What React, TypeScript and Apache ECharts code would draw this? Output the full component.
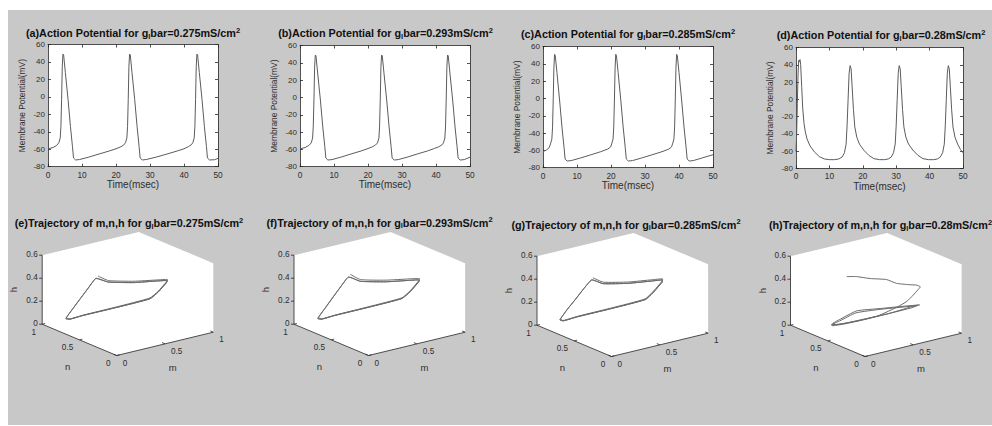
import React, { useEffect, useRef } from 'react';
import * as echarts from 'echarts';

// ---------------- DATA ----------------
const timeTicks = [0, 10, 20, 30, 40, 50];
const voltTicks = [-80, -60, -40, -20, 0, 20, 40, 60];
const gBarValues = ['0.275', '0.293', '0.285', '0.28'];
const topLetters = ['(a)', '(b)', '(c)', '(d)'];
const bottomLetters = ['(e)', '(f)', '(g)', '(h)'];
const mTicks = [0, 0.5, 1];
const nTicks = [0, 0.5, 1];
const hTicks = [0, 0.2, 0.4, 0.6];

// [time (msec), membrane potential (mV)]
const apA: number[][] = [[0,-59.5],[1.5,-58],[2.5,-55.8],[3.2,-52.5],[3.6,-47],[3.8,-34],[4.0,-3],[4.2,35],[4.4,49],[4.6,48],[5.1,28],[5.9,-3],[6.6,-34],[7.2,-57],[7.5,-70],[8.1,-72.3],[9.3,-71.8],[12,-69],[15,-65.5],[18,-62],[20,-59.5],[21.5,-57],[22.3,-55],[22.8,-52.5],[23.2,-47],[23.4,-34],[23.6,-3],[23.8,35],[24.0,49],[24.2,48],[24.7,28],[25.5,-3],[26.2,-34],[26.8,-57],[27.1,-70],[27.7,-72.3],[28.9,-71.8],[32,-68.8],[35,-65.5],[38,-62],[40,-59.5],[41.3,-57],[42.1,-55],[42.6,-52.5],[43.0,-47],[43.2,-34],[43.4,-3],[43.6,35],[43.8,49],[44.0,48],[44.5,28],[45.3,-3],[46.0,-34],[46.6,-57],[46.9,-70],[47.5,-72.3],[49,-72],[50,-70.5]];
const apB: number[][] = [[0,-59.5],[1.5,-57.8],[2.6,-55.5],[3.3,-52.5],[3.7,-47],[3.9,-34],[4.1,-3],[4.3,35],[4.5,49],[4.7,48],[5.2,28],[6.0,-3],[6.7,-34],[7.3,-57],[7.6,-70],[8.2,-72.3],[9.4,-71.8],[12,-69],[15,-65.3],[18,-61.8],[20,-59],[21.3,-57],[22.2,-55],[22.8,-52.5],[23.2,-47],[23.4,-34],[23.6,-3],[23.8,35],[24.0,49],[24.2,48],[24.7,28],[25.5,-3],[26.2,-34],[26.8,-57],[27.1,-70],[27.7,-72.3],[28.9,-71.8],[31.5,-69],[34.5,-65.3],[37.5,-61.8],[39.5,-59],[40.8,-57],[41.7,-55],[42.2,-52.5],[42.6,-47],[42.8,-34],[43.0,-3],[43.2,35],[43.4,49],[43.6,48],[44.1,28],[44.9,-3],[45.6,-34],[46.2,-57],[46.5,-70],[47.1,-72.3],[48.3,-71.8],[50,-69]];
const apC: number[][] = [[0,-61.5],[1,-59.5],[1.8,-57],[2.2,-52.5],[2.6,-47],[2.8,-34],[3.0,-3],[3.2,35],[3.4,51],[3.6,49.5],[4.1,30],[4.9,-3],[5.6,-34],[6.2,-57],[6.5,-70],[7.1,-72.3],[8.3,-71.8],[11,-68.8],[14,-65.2],[17,-61.5],[19,-58.5],[19.9,-56],[20.2,-52.5],[20.6,-47],[20.8,-34],[21.0,-3],[21.2,35],[21.4,51],[21.6,49.5],[22.1,30],[22.9,-3],[23.6,-34],[24.2,-57],[24.5,-70],[25.1,-72.3],[26.3,-71.8],[29,-68.8],[32,-65.2],[35,-61.5],[37,-58.5],[37.8,-56],[38.1,-52.5],[38.5,-47],[38.7,-34],[38.9,-3],[39.1,35],[39.3,51],[39.5,49.5],[40.0,30],[40.8,-3],[41.5,-34],[42.1,-57],[42.4,-70],[43.0,-72.3],[44.2,-71.8],[47,-68.5],[50,-65]];
const apD: number[][] = [[0,-60.5],[0.2,-40],[0.4,-5],[0.6,28],[0.8,45],[1.0,43.5],[1.2,46],[1.4,40],[1.7,15],[2.0,-10],[2.4,-28],[2.8,-38],[3.3,-46],[4.2,-54],[5.5,-61],[7,-66.5],[8.5,-69.2],[10,-70],[11.5,-70],[12.8,-69.2],[13.8,-67],[14.5,-62],[15.0,-52],[15.3,-30],[15.6,0],[15.9,30],[16.2,39],[16.5,35],[16.8,15],[17.2,-12],[17.6,-32],[18.2,-44],[19.0,-52],[20.3,-59],[21.8,-65],[23.3,-68.8],[25,-70],[26.5,-70],[27.6,-69.2],[28.5,-67],[29.2,-62],[29.7,-52],[30.0,-30],[30.3,0],[30.6,30],[30.9,39],[31.2,35],[31.5,15],[31.9,-12],[32.3,-32],[32.9,-44],[33.7,-52],[35,-59],[36.5,-65],[38,-68.8],[39.7,-70],[41.2,-70],[42.3,-69.2],[43.2,-67],[43.9,-62],[44.4,-52],[44.7,-30],[45.0,0],[45.3,30],[45.6,39],[45.9,35],[46.2,15],[46.6,-12],[47.0,-32],[47.6,-44],[48.4,-52],[49.2,-58],[50,-62]];

// [m, n, h]
const trajE: number[][] = [[0.07,0.342,0.584],[0.2,0.37,0.51],[0.5,0.42,0.43],[0.8,0.495,0.36],[0.93,0.525,0.33],[0.95,0.56,0.30],[0.92,0.635,0.2],[0.85,0.655,0.15],[0.51,0.66,0.14],[0.18,0.68,0.13],[0.056,0.7,0.116],[0.03,0.72,0.12],[0.03,0.62,0.24],[0.04,0.53,0.352],[0.045,0.43,0.47],[0.05,0.343,0.568],[0.2,0.374,0.497],[0.5,0.426,0.417],[0.8,0.5,0.35],[0.93,0.528,0.32],[0.955,0.565,0.291],[0.925,0.642,0.19],[0.855,0.662,0.14],[0.51,0.666,0.133],[0.18,0.686,0.125],[0.056,0.706,0.112],[0.03,0.722,0.118],[0.03,0.62,0.238],[0.04,0.53,0.35],[0.045,0.43,0.468],[0.05,0.345,0.565],[0.2,0.375,0.496],[0.5,0.427,0.416],[0.8,0.501,0.349],[0.93,0.529,0.319],[0.955,0.566,0.29],[0.925,0.643,0.189],[0.855,0.663,0.139],[0.51,0.667,0.132],[0.18,0.687,0.124],[0.056,0.707,0.111],[0.03,0.715,0.13]];
const trajF: number[][] = [[0.07,0.335,0.6],[0.2,0.365,0.52],[0.5,0.418,0.44],[0.8,0.492,0.37],[0.93,0.522,0.338],[0.95,0.558,0.305],[0.92,0.632,0.205],[0.85,0.652,0.152],[0.51,0.658,0.142],[0.18,0.678,0.131],[0.056,0.698,0.117],[0.03,0.718,0.121],[0.03,0.615,0.245],[0.04,0.525,0.36],[0.045,0.425,0.48],[0.05,0.332,0.582],[0.2,0.368,0.505],[0.5,0.422,0.425],[0.8,0.497,0.356],[0.93,0.526,0.326],[0.955,0.562,0.296],[0.925,0.64,0.194],[0.855,0.66,0.143],[0.51,0.664,0.135],[0.18,0.684,0.126],[0.056,0.704,0.113],[0.03,0.72,0.119],[0.03,0.615,0.243],[0.04,0.525,0.358],[0.045,0.425,0.478],[0.05,0.334,0.58],[0.2,0.369,0.504],[0.5,0.423,0.424],[0.8,0.498,0.355],[0.93,0.527,0.325],[0.955,0.563,0.295],[0.925,0.641,0.193],[0.855,0.661,0.142],[0.51,0.665,0.134],[0.18,0.685,0.125],[0.056,0.705,0.112],[0.03,0.71,0.132]];
const trajG: number[][] = [[0.07,0.34,0.578],[0.2,0.37,0.505],[0.5,0.42,0.432],[0.8,0.49,0.372],[0.93,0.52,0.345],[0.95,0.555,0.31],[0.92,0.64,0.2],[0.86,0.665,0.145],[0.52,0.67,0.135],[0.18,0.69,0.125],[0.05,0.71,0.11],[0.03,0.73,0.115],[0.03,0.63,0.235],[0.04,0.535,0.345],[0.045,0.43,0.465],[0.055,0.335,0.565],[0.2,0.372,0.492],[0.5,0.424,0.42],[0.8,0.495,0.36],[0.93,0.523,0.335],[0.955,0.56,0.3],[0.925,0.645,0.19],[0.865,0.668,0.138],[0.52,0.673,0.129],[0.18,0.693,0.12],[0.05,0.713,0.106],[0.03,0.732,0.112],[0.03,0.63,0.233],[0.04,0.535,0.343],[0.045,0.43,0.463],[0.055,0.337,0.562],[0.2,0.373,0.491],[0.5,0.425,0.419],[0.8,0.496,0.359],[0.93,0.524,0.334],[0.955,0.561,0.299],[0.925,0.646,0.189],[0.865,0.669,0.137],[0.52,0.674,0.128],[0.18,0.694,0.119],[0.05,0.714,0.105],[0.03,0.72,0.125]];
const trajH: number[][] = [[0.05,0.31,0.60],[0.15,0.31,0.58],[0.3,0.32,0.53],[0.5,0.36,0.47],[0.65,0.42,0.39],[0.8,0.45,0.34],[0.9,0.47,0.31],[0.95,0.49,0.28],[0.94,0.51,0.25],[0.9,0.52,0.21],[0.85,0.54,0.16],[0.78,0.57,0.12],[0.6,0.6,0.07],[0.4,0.62,0.06],[0.2,0.62,0.07],[0.1,0.58,0.1],[0.1,0.54,0.13],[0.12,0.5,0.16],[0.3,0.5,0.2],[0.55,0.5,0.17],[0.8,0.5,0.14],[0.95,0.5,0.12],[0.93,0.53,0.11],[0.7,0.57,0.08],[0.45,0.6,0.065],[0.25,0.61,0.065],[0.12,0.6,0.08],[0.1,0.56,0.11],[0.14,0.52,0.14],[0.3,0.51,0.18],[0.55,0.51,0.16],[0.8,0.51,0.13],[0.94,0.52,0.11],[0.9,0.55,0.09],[0.68,0.58,0.075],[0.45,0.6,0.07],[0.25,0.61,0.07],[0.13,0.59,0.09],[0.11,0.55,0.12]];

const apSeries = [apA, apB, apC, apD];
const trajSeries = [trajE, trajF, trajG, trajH];

// ---------------- LAYOUT / STYLE ----------------
const FONT = '"Liberation Sans", Arial, Helvetica, sans-serif';
const AXIS_COLOR = '#262626';
const TEXT_COLOR = '#2e2e2e';
const TITLE_COLOR = '#111111';
const AP_COLOR = '#5c5c5c';
const TRAJ_COLOR = '#6a6a6a';

const topBoxes = [
  { left: 48, right: 218, top: 44.5, bottom: 166.7, titleX: 133, titleY: 33.3 },
  { left: 300, right: 470, top: 45.5, bottom: 166.7, titleX: 385.5, titleY: 33.3 },
  { left: 543, right: 713, top: 46.5, bottom: 167.7, titleX: 628, titleY: 34 },
  { left: 796, right: 963, top: 47.5, bottom: 168.3, titleX: 881, titleY: 35 },
];
const bottomBoxes = [
  { ox: 116.7, oy: 355.5, titleX: 129, titleY: 223.3 },
  { ox: 368.5, oy: 355.5, titleX: 379.5, titleY: 222.5 },
  { ox: 611.5, oy: 356.5, titleX: 626, titleY: 224.5 },
  { ox: 865, oy: 356.5, titleX: 880.5, titleY: 225 },
];
// 3D view: screen vectors (px) of unit m, unit n, unit h
const MV = [96.6, 23.3];
const NV = [-74.5, 31.3];
const HV = 115;
const H_MAX = 0.6;
function project(m: number, n: number, h: number): number[] {
  return [MV[0] * m + NV[0] * n, MV[1] * m + NV[1] * n + HV * h];
}

function titleRich(prefix: string, g: string) {
  return `{b|${prefix} for g}{s|l}{b|bar=${g}mS/cm}{p|2}`;
}
const titleRichStyles = {
  b: { fontSize: 10.8, fontWeight: 'bold', fontFamily: FONT, lineHeight: 14, fill: TITLE_COLOR, color: TITLE_COLOR },
  s: { fontSize: 7.5, fontWeight: 'bold', fontFamily: FONT, lineHeight: 8, verticalAlign: 'bottom', fill: TITLE_COLOR, color: TITLE_COLOR },
  p: { fontSize: 7.5, fontWeight: 'bold', fontFamily: FONT, lineHeight: 8, verticalAlign: 'top', fill: TITLE_COLOR, color: TITLE_COLOR },
};

function txt(x: number, y: number, text: string, align: string, size: number, rotation = 0) {
  return {
    type: 'text',
    x, y, rotation,
    style: {
      text, fill: TEXT_COLOR, font: `${size}px ${FONT}`,
      align, verticalAlign: 'middle', textAlign: align, textVerticalAlign: 'middle',
    },
  };
}

function make3DRender(traj: number[][]) {
  return (params: any, api: any) => {
    if (params.dataIndex !== 0) return null;
    const P = (m: number, n: number, h: number) => api.coord(project(m, n, h));
    const children: any[] = [];
    children.push({
      type: 'polygon',
      shape: { points: [P(0, 1, H_MAX), P(1, 1, H_MAX), P(1, 0, H_MAX), P(1, 0, 0), P(0, 0, 0), P(0, 1, 0)] },
      style: { fill: '#ffffff' },
    });
    const seg = (a: number[], b: number[]) =>
      children.push({ type: 'line', shape: { x1: a[0], y1: a[1], x2: b[0], y2: b[1] }, style: { stroke: AXIS_COLOR, lineWidth: 0.8 } });
    seg(P(0, 1, 0), P(0, 1, H_MAX));
    seg(P(0, 1, 0), P(0, 0, 0));
    seg(P(0, 0, 0), P(1, 0, 0));
    hTicks.forEach((h) => {
      const a = P(0, 1, h);
      seg(a, [a[0] - 3, a[1]]);
      children.push(txt(a[0] - 4.5, a[1] - 0.8, String(h), 'right', 8.2));
    });
    nTicks.forEach((n) => {
      const a = P(0, n, 0);
      seg(a, P(0.03, n, 0));
      children.push(txt(a[0] - 6.2, a[1] + 8, String(n), 'right', 8.2));
    });
    mTicks.forEach((m) => {
      const a = P(m, 0, 0);
      seg(a, P(m, 0.04, 0));
      children.push(txt(a[0] + 6, a[1] + 7.6, String(m), 'left', 8.2));
    });
    const o = P(0, 0, 0);
    children.push(txt(o[0] - 49, o[1] + 10.5, 'n', 'center', 9.5));
    children.push(txt(o[0] + 56, o[1] + 12, 'm', 'center', 9.5));
    const hm = P(0, 1, H_MAX / 2);
    children.push(txt(hm[0] - 28.5, hm[1], 'h', 'center', 9.5, Math.PI / 2));
    children.push({
      type: 'polyline',
      shape: { points: traj.map((p) => P(p[0], p[1], p[2])), smooth: 0.15 },
      style: { stroke: TRAJ_COLOR, lineWidth: 1, fill: 'none' },
    });
    return { type: 'group', children };
  };
}

function buildOption() {
  const grid: any[] = [];
  const xAxis: any[] = [];
  const yAxis: any[] = [];
  const series: any[] = [];
  const graphic: any[] = [];
  const axisLine = { show: true, onZero: false, lineStyle: { color: AXIS_COLOR, width: 0.8 } };
  const axisTick = { show: true, inside: true, length: 3, lineStyle: { color: AXIS_COLOR, width: 0.8 } };

  topBoxes.forEach((b, i) => {
    grid.push({ left: b.left, top: b.top, width: b.right - b.left, height: b.bottom - b.top, show: true, backgroundColor: '#ffffff', borderWidth: 0 });
    xAxis.push({
      gridIndex: i, type: 'value', position: 'bottom', min: timeTicks[0], max: timeTicks[timeTicks.length - 1], interval: 10,
      axisLine, axisTick, splitLine: { show: false },
      axisLabel: { color: TEXT_COLOR, fontSize: 8.3, fontFamily: FONT, margin: 4 },
      name: 'Time(msec)', nameLocation: 'middle', nameGap: 13,
      nameTextStyle: { color: TEXT_COLOR, fontSize: 10, fontFamily: FONT },
    });
    xAxis.push({
      gridIndex: i, type: 'value', position: 'top', min: timeTicks[0], max: timeTicks[timeTicks.length - 1], interval: 10,
      axisLine, axisTick, splitLine: { show: false }, axisLabel: { show: false },
    });
    yAxis.push({
      gridIndex: i, type: 'value', position: 'left', min: voltTicks[0], max: voltTicks[voltTicks.length - 1], interval: 20,
      axisLine, axisTick, splitLine: { show: false },
      axisLabel: { color: TEXT_COLOR, fontSize: 8, fontFamily: FONT, margin: 3 },
      name: 'Membrane Potential(mV)', nameLocation: 'middle', nameGap: 22, nameRotate: 90,
      nameTextStyle: { color: TEXT_COLOR, fontSize: 8.4, fontFamily: FONT },
    });
    yAxis.push({
      gridIndex: i, type: 'value', position: 'right', min: voltTicks[0], max: voltTicks[voltTicks.length - 1], interval: 20,
      axisLine, axisTick, splitLine: { show: false }, axisLabel: { show: false },
    });
    series.push({
      type: 'line', xAxisIndex: 2 * i, yAxisIndex: 2 * i, data: apSeries[i],
      showSymbol: false, symbol: 'none', lineStyle: { color: AP_COLOR, width: 1 }, z: 3,
    });
    graphic.push({
      type: 'text', x: b.titleX, y: b.titleY, z: 50,
      style: { text: titleRich(`${topLetters[i]}Action Potential`, gBarValues[i]), rich: titleRichStyles, align: 'center', verticalAlign: 'middle', fill: TITLE_COLOR },
    });
  });

  bottomBoxes.forEach((b, i) => {
    const gi = 4 + i;
    grid.push({ left: b.ox - 110, top: b.oy - 150, width: 220, height: 170, show: false });
    xAxis.push({ gridIndex: gi, type: 'value', min: -110, max: 110, show: false });
    yAxis.push({ gridIndex: gi, type: 'value', min: -20, max: 150, show: false });
    series.push({
      type: 'custom', coordinateSystem: 'cartesian2d', xAxisIndex: 8 + i, yAxisIndex: 8 + i,
      data: trajSeries[i], renderItem: make3DRender(trajSeries[i]), clip: false, silent: true, z: 3,
    });
    graphic.push({
      type: 'text', x: b.titleX, y: b.titleY, z: 50,
      style: { text: titleRich(`${bottomLetters[i]}Trajectory of m,n,h`, gBarValues[i]), rich: titleRichStyles, align: 'center', verticalAlign: 'middle', fill: TITLE_COLOR },
    });
  });

  return { animation: false, backgroundColor: 'transparent', grid, xAxis, yAxis, series, graphic };
}

export default function App() {
  const ref = useRef<HTMLDivElement>(null);
  useEffect(() => {
    if (!ref.current) return;
    const chart = echarts.init(ref.current, undefined, { renderer: 'svg' });
    chart.setOption(buildOption() as any);
    return () => chart.dispose();
  }, []);
  return (
    <div style={{ position: 'fixed', left: 0, top: 0, width: 992, height: 426, background: '#ffffff', overflow: 'hidden' }}>
      <div style={{ position: 'absolute', left: 8, top: 10, width: 984, height: 415, background: '#c8c8c8' }} />
      <div ref={ref} style={{ position: 'absolute', left: 0, top: 0, width: 992, height: 426 }} />
    </div>
  );
}
